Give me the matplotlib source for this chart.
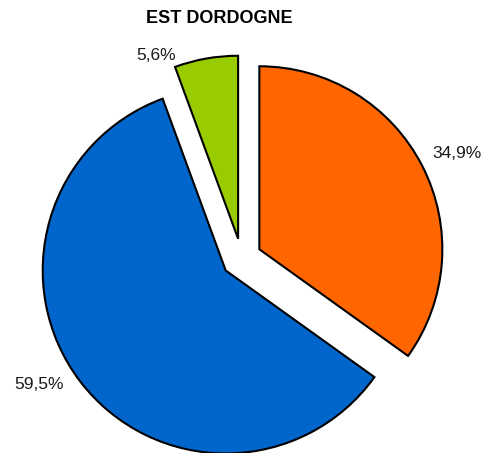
import matplotlib
matplotlib.use("Agg")
import matplotlib.pyplot as plt

# data
labels = ["A", "B", "C"]
values = [34.9, 59.5, 5.6]
colors = ["#FF6600", "#0066CC", "#99CC00"]
title = "EST DORDOGNE"

plt.rcParams['font.family'] = ['Liberation Sans', 'DejaVu Sans']

fig = plt.figure(figsize=(4.84, 4.53), dpi=100, facecolor='white')
ax = fig.add_axes([0, 0, 1, 1])

wedges, _, pct = ax.pie(values, colors=colors, startangle=90, counterclock=False,
                        explode=[0.109, 0.109, 0.109], radius=1,
                        autopct=lambda p: f"{p:.1f}%".replace('.', ','),
                        wedgeprops=dict(edgecolor='black', linewidth=1.5, joinstyle='miter'),
                        textprops=dict(fontsize=12.5, color='#1a1a1a'))

# excel style outside-end label positions (data units, radius = 1)
label_pos = [(1.175, 0.573), (-1.107, -0.689), (-0.468, 1.111)]
for t, p in zip(pct, label_pos):
    t.set_position(p)
    t.set_ha('center')
    t.set_va('center')

# pixel layout: center at (241.6, 258.4) px, radius 183 px
ax.set_xlim(-241.6 / 183, (484 - 241.6) / 183)
ax.set_ylim(-(453 - 258.4) / 183, 258.4 / 183)
ax.set_aspect('auto')
ax.axis('off')

fig.text(0.4525, 0.960, title, ha='center', va='center', fontsize=13, fontweight='bold')

fig.savefig("out.png", dpi=100, facecolor='white')
